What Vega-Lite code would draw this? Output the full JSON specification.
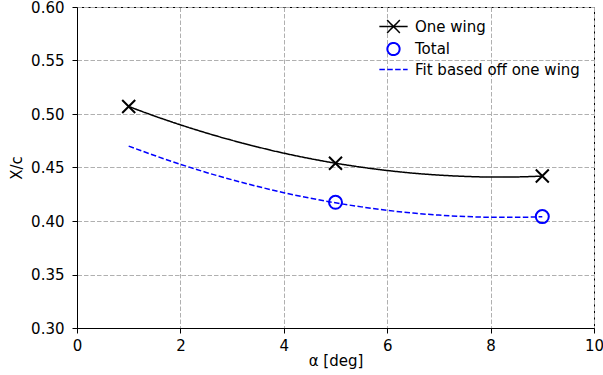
{
  "$schema": "https://vega.github.io/schema/vega-lite/v6.json",
  "width": 517,
  "height": 321,
  "autosize": {"type": "none"},
  "padding": {"left": 77, "top": 7, "right": 9, "bottom": 47},
  "background": "white",
  "config": {
    "view": {"stroke": "black", "strokeWidth": 1},
    "font": "DejaVu Sans",
    "axis": {
      "labelFont": "DejaVu Sans",
      "labelFontSize": 15,
      "labelColor": "black",
      "labelFlush": false,
      "titleFont": "DejaVu Sans",
      "titleFontSize": 15,
      "titleFontWeight": "normal",
      "titleColor": "black",
      "domainColor": "black",
      "domainWidth": 1,
      "tickColor": "black",
      "tickSize": 5,
      "tickWidth": 1,
      "gridColor": "#b0b0b0",
      "gridDash": [4.5, 2],
      "gridWidth": 1
    },
    "legend": {
      "labelFont": "DejaVu Sans",
      "labelFontSize": 15,
      "labelColor": "black",
      "labelLimit": 400,
      "symbolStrokeWidth": 1.5
    }
  },
  "data": {
    "values": [
      {"series": "One wing", "kind": "curve", "x": 1.0, "y": 0.5070},
      {"series": "One wing", "kind": "curve", "x": 1.5, "y": 0.4981},
      {"series": "One wing", "kind": "curve", "x": 2.0, "y": 0.4899},
      {"series": "One wing", "kind": "curve", "x": 2.5, "y": 0.4823},
      {"series": "One wing", "kind": "curve", "x": 3.0, "y": 0.4754},
      {"series": "One wing", "kind": "curve", "x": 3.5, "y": 0.4691},
      {"series": "One wing", "kind": "curve", "x": 4.0, "y": 0.4634},
      {"series": "One wing", "kind": "curve", "x": 4.5, "y": 0.4584},
      {"series": "One wing", "kind": "curve", "x": 5.0, "y": 0.4540},
      {"series": "One wing", "kind": "curve", "x": 5.5, "y": 0.4503},
      {"series": "One wing", "kind": "curve", "x": 6.0, "y": 0.4472},
      {"series": "One wing", "kind": "curve", "x": 6.5, "y": 0.4447},
      {"series": "One wing", "kind": "curve", "x": 7.0, "y": 0.4429},
      {"series": "One wing", "kind": "curve", "x": 7.5, "y": 0.4417},
      {"series": "One wing", "kind": "curve", "x": 8.0, "y": 0.4411},
      {"series": "One wing", "kind": "curve", "x": 8.5, "y": 0.4412},
      {"series": "One wing", "kind": "curve", "x": 9.0, "y": 0.4420},
      {"series": "Fit based off one wing", "kind": "curve", "x": 1.0, "y": 0.4700},
      {"series": "Fit based off one wing", "kind": "curve", "x": 1.5, "y": 0.4612},
      {"series": "Fit based off one wing", "kind": "curve", "x": 2.0, "y": 0.4530},
      {"series": "Fit based off one wing", "kind": "curve", "x": 2.5, "y": 0.4454},
      {"series": "Fit based off one wing", "kind": "curve", "x": 3.0, "y": 0.4385},
      {"series": "Fit based off one wing", "kind": "curve", "x": 3.5, "y": 0.4322},
      {"series": "Fit based off one wing", "kind": "curve", "x": 4.0, "y": 0.4265},
      {"series": "Fit based off one wing", "kind": "curve", "x": 4.5, "y": 0.4214},
      {"series": "Fit based off one wing", "kind": "curve", "x": 5.0, "y": 0.4170},
      {"series": "Fit based off one wing", "kind": "curve", "x": 5.5, "y": 0.4132},
      {"series": "Fit based off one wing", "kind": "curve", "x": 6.0, "y": 0.4100},
      {"series": "Fit based off one wing", "kind": "curve", "x": 6.5, "y": 0.4074},
      {"series": "Fit based off one wing", "kind": "curve", "x": 7.0, "y": 0.4055},
      {"series": "Fit based off one wing", "kind": "curve", "x": 7.5, "y": 0.4042},
      {"series": "Fit based off one wing", "kind": "curve", "x": 8.0, "y": 0.4035},
      {"series": "Fit based off one wing", "kind": "curve", "x": 8.5, "y": 0.4034},
      {"series": "Fit based off one wing", "kind": "curve", "x": 9.0, "y": 0.4040},
      {"series": "One wing", "kind": "point", "x": 1, "y": 0.507},
      {"series": "One wing", "kind": "point", "x": 5, "y": 0.454},
      {"series": "One wing", "kind": "point", "x": 9, "y": 0.442},
      {"series": "Total", "kind": "point", "x": 5, "y": 0.4175},
      {"series": "Total", "kind": "point", "x": 9, "y": 0.4041}
    ]
  },
  "encoding": {
    "x": {
      "field": "x", "type": "quantitative",
      "scale": {"domain": [0, 10], "nice": false},
      "axis": {"values": [0, 2, 4, 6, 8, 10], "title": "α [deg]", "labelPadding": 5, "titlePadding": 0}
    },
    "y": {
      "field": "y", "type": "quantitative",
      "scale": {"domain": [0.3, 0.6], "nice": false, "zero": false},
      "axis": {"values": [0.3, 0.35, 0.4, 0.45, 0.5, 0.55, 0.6], "format": ".2f", "title": "X/c", "labelPadding": 8, "titlePadding": 6}
    }
  },
  "layer": [
    {
      "transform": [{"filter": "datum.kind === 'curve'"}],
      "mark": {"type": "line", "strokeWidth": 1.5, "interpolate": "monotone"},
      "encoding": {
        "color": {
          "field": "series", "type": "nominal",
          "scale": {"domain": ["One wing", "Total", "Fit based off one wing"], "range": ["black", "blue", "blue"]},
          "legend": {
            "title": null,
            "orient": "none",
            "legendX": 309,
            "legendY": 12,
            "padding": 0,
            "symbolSize": 200,
            "labelOffset": 14,
            "rowPadding": 2.5,
            "labelLimit": 400,
            "encode": {
              "symbols": {
                "update": {
                  "shape": {"signal": "datum.value === 'One wing' ? 'M-2,0H2M-0.9,-0.9L0.9,0.9M-0.9,0.9L0.9,-0.9' : datum.value === 'Total' ? 'circle' : 'M-2,0H2'"},
                  "size": {"signal": "datum.value === 'Total' ? 150 : 200"},
                  "fill": {"value": "transparent"},
                  "strokeWidth": {"signal": "datum.value === 'Total' ? 2 : 1.5"}
                }
              }
            }
          }
        },
        "strokeDash": {
          "field": "series", "type": "nominal",
          "scale": {"domain": ["One wing", "Total", "Fit based off one wing"], "range": [[1, 0], [1, 0], [5.5, 2.4]]},
          "legend": {
            "title": null,
            "orient": "none",
            "legendX": 309,
            "legendY": 12,
            "padding": 0,
            "symbolSize": 200,
            "labelOffset": 14,
            "rowPadding": 2.5,
            "labelLimit": 400
          }
        }
      }
    },
    {
      "transform": [{"filter": "datum.kind === 'point'"}],
      "mark": {"type": "point", "filled": false, "strokeWidth": 2, "size": 169, "opacity": 1},
      "encoding": {
        "color": {"field": "series", "type": "nominal"},
        "shape": {
          "field": "series", "type": "nominal",
          "scale": {"domain": ["One wing", "Total"], "range": ["M-1,-1L1,1M-1,1L1,-1", "circle"]},
          "legend": null
        }
      }
    }
  ]
}
